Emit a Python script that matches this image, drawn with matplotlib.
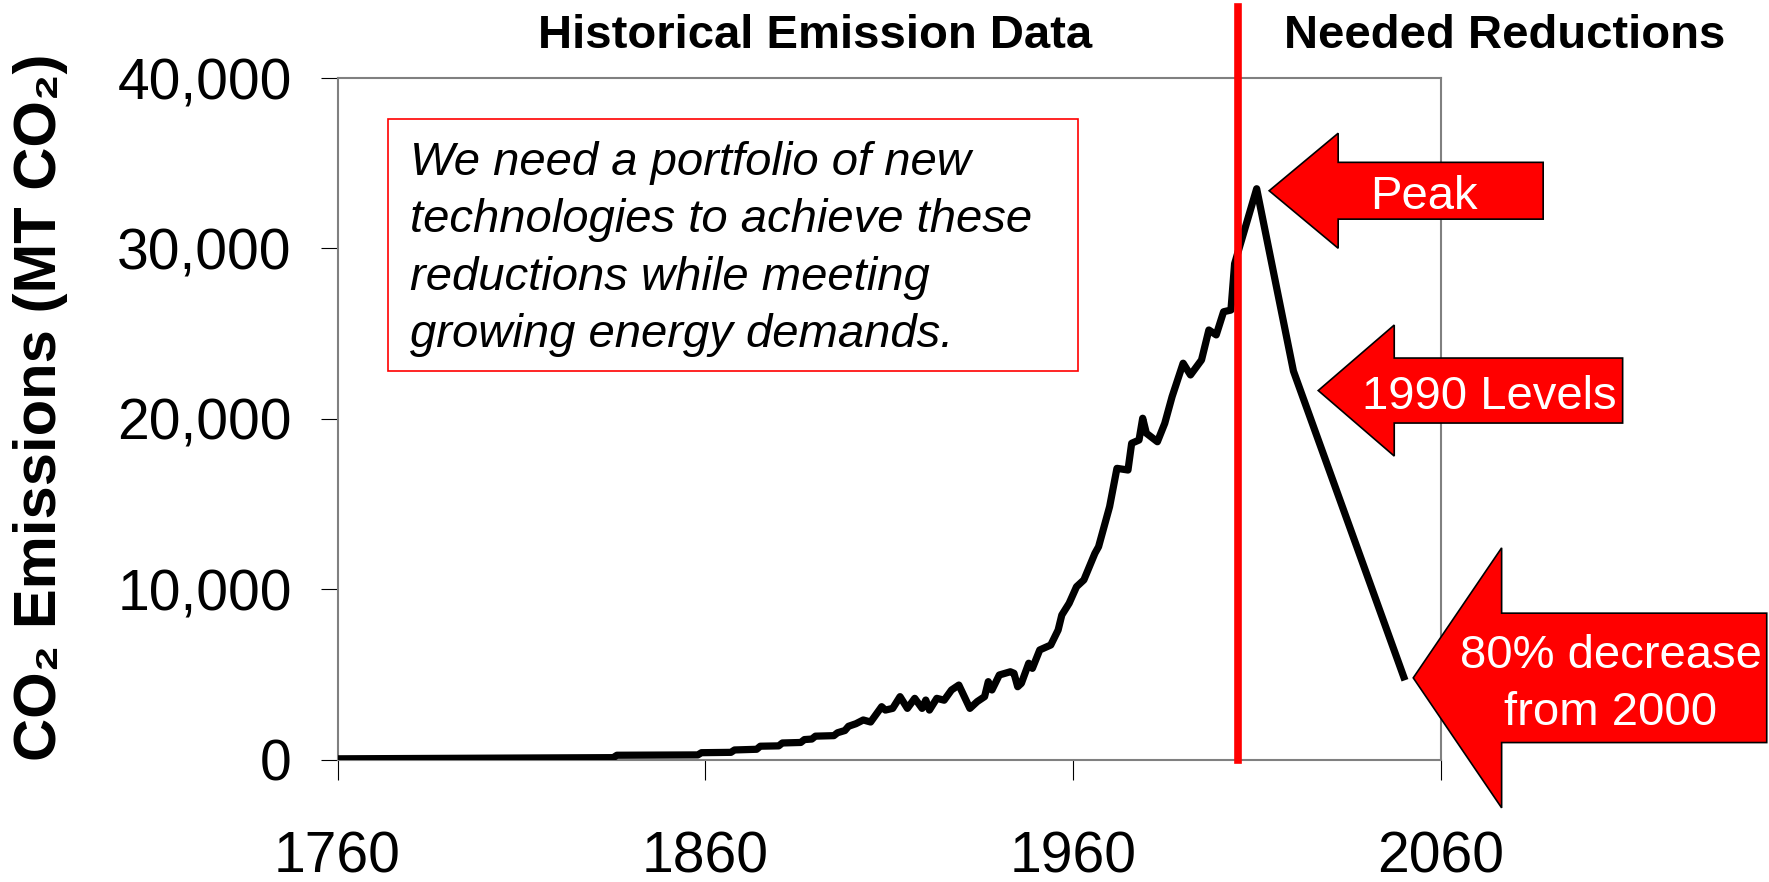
import numpy as np
import matplotlib
matplotlib.use("Agg")
import matplotlib.pyplot as plt
from matplotlib import font_manager
from matplotlib.patches import Polygon, Rectangle
from matplotlib.ticker import FuncFormatter

plt.rcParams["font.family"] = ["Liberation Sans", "DejaVu Sans"]

# ---- data (MT CO2) ----
hist_years = [1760, 1835, 1836, 1858, 1859, 1867, 1868, 1874, 1875, 1880,
              1881, 1886, 1887, 1889, 1890, 1895, 1896, 1898, 1899, 1901,
              1903, 1905, 1907, 1908, 1909, 1911, 1913, 1915, 1917, 1919,
              1920, 1921, 1923, 1925, 1927, 1929, 1932, 1934, 1936, 1937,
              1938, 1940, 1943, 1944, 1945, 1946, 1948, 1949, 1951, 1954,
              1956, 1957, 1959, 1961, 1963, 1966, 1967, 1970, 1972, 1975,
              1976, 1978, 1979, 1980, 1983, 1985, 1987, 1990, 1992, 1995,
              1997, 1999, 2001, 2003, 2004]
hist_values = [40, 110, 250, 270, 400, 420, 560, 600, 780, 800,
               970, 1000, 1170, 1200, 1370, 1400, 1570, 1700, 1950, 2100,
               2320, 2200, 2800, 3100, 2900, 3000, 3690, 3000, 3590, 3000,
               3490, 2900, 3590, 3480, 4080, 4370, 3000, 3400, 3690, 4570,
               4080, 4960, 5150, 5060, 4270, 4470, 5650, 5350, 6430, 6720,
               7600, 8480, 9170, 10140, 10540, 12100, 12490, 14840, 17090, 16990,
               18560, 18750, 20030, 19150, 18650, 19730, 21300, 23260, 22570, 23450,
               25210, 24920, 26280, 26380, 29100]

# needed reductions: peak, back to 1990 levels, 80% below 2000
target_years = [2010, 2020, 2050]
target_values = [33500, 22800, 4850]
target_labels = [["Peak"], ["1990 Levels"], ["80% decrease", "from 2000"]]

divider_year = 2005
x_ticks = [1760, 1860, 1960, 2060]
y_ticks = [0, 10000, 20000, 30000, 40000]

note_lines = ["We need a portfolio of new",
              "technologies to achieve these",
              "reductions while meeting",
              "growing energy demands."]

# ---- figure in pixel units ----
W, H = 1769, 882
fig = plt.figure(figsize=(W / 100, H / 100), dpi=100)
fig.patch.set_facecolor("white")


def fx(x):
    return x / W


def fy(y):
    return 1 - y / H


ax_l, ax_r, ax_t, ax_b = 337.5, 1440.5, 78, 759.5
ax = fig.add_axes([fx(ax_l), fy(ax_b), (ax_r - ax_l) / W, (ax_b - ax_t) / H])

years = np.r_[hist_years, target_years]
values = np.r_[hist_values, target_values]
ax.plot(years, values, color="black", lw=5.2, zorder=3)

ax.axvline(divider_year, ymin=0, ymax=(ax_b - 6.5) / (ax_b - ax_t),
           color="#ff0000", lw=5.5, clip_on=False, zorder=4)

ax.set_xlim(1760, 2060)
ax.set_ylim(0, 40000)
ax.set_xticks(x_ticks)
ax.set_yticks(y_ticks)
ax.yaxis.set_major_formatter(FuncFormatter(lambda v, p: f"{int(v):,}"))

for spine in ax.spines.values():
    spine.set_color("#808080")
    spine.set_linewidth(1.5)

names = {f.name for f in font_manager.fontManager.ttflist}
if "Liberation Sans Narrow" in names:
    xfam, xsize = "Liberation Sans Narrow", 45
else:
    xfam, xsize = "Liberation Sans", 41

ax.tick_params(axis="x", direction="out", length=14.4, width=0.8,
               color="black", pad=37, labelsize=xsize)
ax.tick_params(axis="y", direction="out", length=12.6, width=0.8,
               color="black", pad=20.4, labelsize=41)
for lab in ax.get_xticklabels():
    lab.set_family([xfam, "DejaVu Sans"])

# axis title and section headers
fig.text(fx(41), fy(407), "CO\u2082 Emissions (MT CO\u2082)", rotation=90,
         fontsize=43, fontweight="bold", ha="center", va="center")
fig.text(fx(815), fy(48), "Historical Emission Data", fontsize=34,
         fontweight="bold", ha="center", va="baseline")
fig.text(fx(1505), fy(48), "Needed Reductions", fontsize=34,
         fontweight="bold", ha="center", va="baseline")

# note box
fig.add_artist(Rectangle((fx(388), fy(370.7)), (1078 - 388) / W,
                         (370.7 - 119) / H, transform=fig.transFigure,
                         facecolor="white", edgecolor="#ff0000", lw=1.2,
                         zorder=2))
for line, base in zip(note_lines, [175, 231.7, 290, 346.7]):
    fig.text(fx(410), fy(base), line, fontsize=34, style="italic",
             ha="left", va="baseline", zorder=3)

# block arrows pointing at the target points
# (tip offset dx, dy, head length, head half, body half, total length, text dx, text baselines)
arrow_shapes = [
    (12.5, 2, 69, 57.5, 28.4, 274, 154.7, [18.2]),
    (24.8, 19.5, 76, 65.5, 32.5, 304.4, 171.4, [18.8]),
    (9.5, 1, 88.4, 130, 64.7, 353.5, 197.5, [-9.7, 47]),
]
for yr, val, labels, shape in zip(target_years, target_values, target_labels, arrow_shapes):
    dx, dy, hl, hh, bh, L, tdx, tdys = shape
    px, py = ax.transData.transform((yr, val))
    tx, ty = px + dx, H - py + dy
    pts = [(tx, ty), (tx + hl, ty - hh), (tx + hl, ty - bh), (tx + L, ty - bh),
           (tx + L, ty + bh), (tx + hl, ty + bh), (tx + hl, ty + hh)]
    fig.add_artist(Polygon([(fx(a), fy(b)) for a, b in pts], closed=True,
                           transform=fig.transFigure, facecolor="#ff0000",
                           edgecolor="black", lw=1.2, joinstyle="miter",
                           zorder=5))
    for lab, tdy in zip(labels, tdys):
        fig.text(fx(tx + tdx), fy(ty + tdy), lab, fontsize=34, color="white",
                 ha="center", va="baseline", zorder=6)

fig.savefig("out.png", dpi=100)
